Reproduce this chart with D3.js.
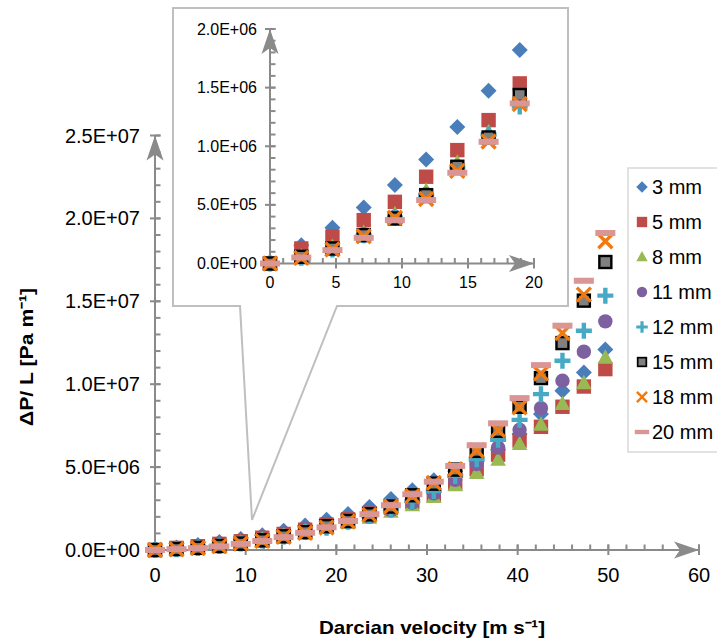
<!DOCTYPE html>
<html><head><meta charset="utf-8">
<script src="https://cdn.jsdelivr.net/npm/d3@7"></script>
<style>
html,body{margin:0;padding:0;background:#fff;}
svg{display:block;font-family:"Liberation Sans",Arial,sans-serif;}
</style></head>
<body>
<svg id="chart" width="717" height="643"></svg>
<script>
// ---------- data ----------
const velocity = [0, 2.37, 4.73, 7.10, 9.46, 11.83, 14.19, 16.56, 18.92, 21.29, 23.65, 26.02, 28.38, 30.75, 33.11, 35.48, 37.84, 40.21, 42.57, 44.94, 47.30, 49.67];
const seriesNames = ["3 mm", "5 mm", "8 mm", "11 mm", "12 mm", "15 mm", "18 mm", "20 mm"];
// values in units of 1E6 Pa m^-1
const dp3  = [0, 0.156, 0.304, 0.478, 0.669, 0.888, 1.164, 1.474, 1.821, 2.17, 2.60, 3.08, 3.60, 4.20, 4.75, 5.35, 6.05, 7.00, 8.20, 9.60, 10.70, 12.10];
const dp5  = [0, 0.128, 0.228, 0.370, 0.526, 0.740, 0.967, 1.223, 1.536, 1.85, 2.20, 2.55, 2.90, 3.30, 4.00, 4.87, 5.75, 6.60, 7.43, 8.64, 9.86, 10.91];
const dp8  = [0, 0.060, 0.140, 0.260, 0.420, 0.620, 0.860, 1.120, 1.400, 1.65, 1.95, 2.30, 2.70, 3.20, 3.90, 4.65, 5.45, 6.40, 7.55, 8.80, 10.05, 11.60];
const dp11 = [0, 0.055, 0.130, 0.250, 0.400, 0.590, 0.820, 1.080, 1.380, 1.70, 2.00, 2.40, 2.86, 3.42, 4.23, 5.18, 6.18, 7.25, 8.56, 10.21, 11.96, 13.79];
const dp12 = [0, 0.050, 0.120, 0.240, 0.390, 0.580, 0.820, 1.100, 1.340, 1.70, 2.05, 2.45, 2.95, 3.56, 4.47, 5.48, 6.65, 7.85, 9.40, 11.41, 13.22, 15.34];
const dp15 = [0, 0.057, 0.128, 0.242, 0.384, 0.583, 0.825, 1.075, 1.437, 1.75, 2.15, 2.62, 3.30, 4.00, 4.85, 5.98, 7.19, 8.64, 10.37, 12.48, 15.04, 17.37];
const dp18 = [0, 0.048, 0.120, 0.233, 0.390, 0.550, 0.790, 1.040, 1.360, 1.72, 2.12, 2.62, 3.25, 4.05, 4.87, 6.00, 7.22, 8.60, 10.65, 13.09, 15.40, 18.62];
const dp20 = [0, 0.051, 0.114, 0.219, 0.370, 0.541, 0.774, 1.038, 1.366, 1.75, 2.16, 2.70, 3.36, 4.12, 5.07, 6.32, 7.64, 9.16, 11.15, 13.53, 16.24, 19.12];
const seriesValues = [dp3, dp5, dp8, dp11, dp12, dp15, dp18, dp20];

const xTicks = [0, 10, 20, 30, 40, 50, 60];
const yTicks = [0, 5e6, 1e7, 1.5e7, 2e7, 2.5e7];
const yTickLabels = ["0.0E+00", "5.0E+06", "1.0E+07", "1.5E+07", "2.0E+07", "2.5E+07"];
const insetXTicks = [0, 5, 10, 15, 20];
const insetYTicks = [0, 5e5, 1e6, 1.5e6, 2e6];
const insetYTickLabels = ["0.0E+00", "5.0E+05", "1.0E+06", "1.5E+06", "2.0E+06"];

// ---------- styles ----------
const markerTypes = ["diamond", "square", "triangle", "circle", "plus", "graysquare", "cross", "dash"];
const colors = ["#4A7EBB", "#BE4B48", "#98B954", "#7D60A0", "#46AAC5", "#808080", "#F07A12", "#D99694"];
const axisColor = "#8A8A8A";

const svg = d3.select("#chart");

function drawMarker(g, type, color, cx, cy, s) {
  const t = g.append("g").attr("transform", `translate(${cx},${cy}) scale(${s})`);
  switch (type) {
    case "diamond":
      t.append("path").attr("d", "M0,-8L8,0L0,8L-8,0Z").attr("fill", color); break;
    case "square":
      t.append("rect").attr("x", -7.2).attr("y", -7.2).attr("width", 14.4).attr("height", 14.4).attr("fill", color); break;
    case "triangle":
      t.append("path").attr("d", "M0,-8.5L7.8,6L-7.8,6Z").attr("fill", color); break;
    case "circle":
      t.append("circle").attr("r", 7.2).attr("fill", color); break;
    case "plus":
      t.append("path").attr("d", "M-8,0H8M0,-8V8").attr("stroke", color).attr("stroke-width", 4.4).attr("fill", "none"); break;
    case "graysquare":
      t.append("rect").attr("x", -6).attr("y", -6).attr("width", 12).attr("height", 12).attr("fill", color).attr("stroke", "#000").attr("stroke-width", 2.4); break;
    case "cross":
      t.append("path").attr("d", "M-7,-7L7,7M7,-7L-7,7").attr("stroke", color).attr("stroke-width", 3.4).attr("fill", "none"); break;
    case "dash":
      t.append("rect").attr("x", -10).attr("y", -3).attr("width", 20).attr("height", 6).attr("fill", color); break;
  }
}

function arrowPath(tipX, tipY, dir) {
  const L = 25, W = 8.5, N = 19;
  if (dir === "up") {
    return `M${tipX},${tipY}L${tipX + W},${tipY + L}L${tipX},${tipY + N}L${tipX - W},${tipY + L}Z`;
  }
  return `M${tipX},${tipY}L${tipX - L},${tipY - W}L${tipX - N},${tipY}L${tipX - L},${tipY + W}Z`;
}

function drawAxes(g, x, y, xMajor, xMinorStep, yMajor, yMinorStep, xDom, yDom, xLabels, yLabels, fs, xLabelDy, yLabelDx) {
  const x0 = x(0), y0 = y(0);
  const ax = g.append("g").attr("stroke", axisColor).attr("stroke-width", 2).attr("fill", "none");
  ax.append("line").attr("x1", x0).attr("x2", x(xDom[1])).attr("y1", y0).attr("y2", y0);
  ax.append("line").attr("x1", x0).attr("x2", x0).attr("y1", y0).attr("y2", y(yDom[1]));
  d3.range(xDom[0], xDom[1] + 1e-9, xMinorStep).forEach(v => {
    ax.append("line").attr("x1", x(v)).attr("x2", x(v)).attr("y1", y0).attr("y2", y0 - 5.5);
  });
  d3.range(yDom[0], yDom[1] + yMinorStep / 10, yMinorStep).forEach(v => {
    ax.append("line").attr("x1", x0).attr("x2", x0 + 5.5).attr("y1", y(v)).attr("y2", y(v));
  });
  xMajor.forEach(v => {
    ax.append("line").attr("x1", x(v)).attr("x2", x(v)).attr("y1", y0 + 5).attr("y2", y0 - 5.5);
  });
  yMajor.forEach(v => {
    ax.append("line").attr("x1", x0 - 5).attr("x2", x0 + 5.5).attr("y1", y(v)).attr("y2", y(v));
  });
  g.append("path").attr("d", arrowPath(x0, y(yDom[1]), "up")).attr("fill", axisColor);
  g.append("path").attr("d", arrowPath(x(xDom[1]), y0, "right")).attr("fill", axisColor);
  const lt = g.append("g").attr("fill", "#000").attr("font-size", fs);
  xMajor.forEach((v, i) => {
    lt.append("text").attr("x", x(v)).attr("y", y0 + xLabelDy).attr("text-anchor", "middle").text(xLabels[i]);
  });
  yMajor.forEach((v, i) => {
    lt.append("text").attr("x", x0 - yLabelDx).attr("y", y(v)).attr("dy", "0.35em").attr("text-anchor", "end").text(yLabels[i]);
  });
}

// ---------- main chart ----------
const x = d3.scaleLinear().domain([0, 60]).range([155, 699]);
const y = d3.scaleLinear().domain([0, 2.5e7]).range([550, 135.5]);

const main = svg.append("g");
drawAxes(main, x, y, xTicks, 2, yTicks, 1e6, [0, 60], [0, 2.5e7], xTicks.map(String), yTickLabels, 20, 32, 15);

const pts = svg.append("g");
seriesValues.forEach((vals, s) => {
  vals.forEach((v, i) => {
    drawMarker(pts, markerTypes[s], colors[s], x(velocity[i]), y(v * 1e6), 1);
  });
});

svg.append("text").attr("x", 432).attr("y", 634).attr("text-anchor", "middle")
  .attr("font-size", 19).attr("font-weight", "bold").attr("textLength", 226).attr("lengthAdjust", "spacingAndGlyphs")
  .text("Darcian velocity [m s\u207B\u00B9]");
svg.append("text").attr("transform", "translate(33,357) rotate(-90)").attr("text-anchor", "middle")
  .attr("font-size", 19).attr("font-weight", "bold").attr("textLength", 138).attr("lengthAdjust", "spacingAndGlyphs")
  .text("\u0394P/ L [Pa m\u207B\u00B9]");

// ---------- inset callout ----------
svg.append("path")
  .attr("d", "M173,8H568V306H337L252,520L240,306H173Z")
  .attr("fill", "#fff").attr("stroke", "#BFBFBF").attr("stroke-width", 2).attr("stroke-linejoin", "miter");

const xi = d3.scaleLinear().domain([0, 20]).range([270, 534]);
const yi = d3.scaleLinear().domain([0, 2e6]).range([263.5, 29]);
const inset = svg.append("g");
drawAxes(inset, xi, yi, insetXTicks, 1, insetYTicks, 1e5, [0, 20], [0, 2e6], insetXTicks.map(String), insetYTickLabels, 16, 24, 13);

const ipts = svg.append("g");
seriesValues.forEach((vals, s) => {
  vals.forEach((v, i) => {
    if (velocity[i] <= 20) drawMarker(ipts, markerTypes[s], colors[s], xi(velocity[i]), yi(v * 1e6), 1);
  });
});

// ---------- legend ----------
const leg = svg.append("g");
leg.append("rect").attr("x", 628).attr("y", 168).attr("width", 100).attr("height", 284)
  .attr("fill", "#fff").attr("stroke", "#D9D9D9").attr("stroke-width", 1.5);
seriesNames.forEach((name, i) => {
  const cy = 187 + i * 35;
  drawMarker(leg, markerTypes[i], colors[i], 642, cy, 0.72);
  leg.append("text").attr("x", 652).attr("y", cy).attr("dy", "0.36em").attr("font-size", 20).attr("fill", "#000").text(name);
});
</script>
</body></html>
